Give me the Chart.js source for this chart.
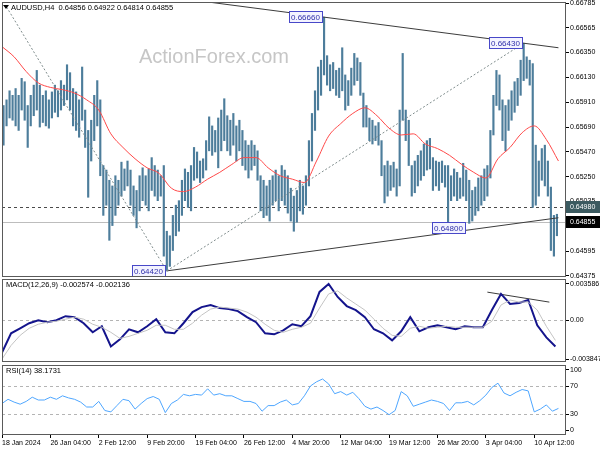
<!DOCTYPE html>
<html>
<head>
<meta charset="utf-8">
<script src="https://cdn.jsdelivr.net/npm/chart.js@4.4.1/dist/chart.umd.min.js"></script>
<style>
html, body { margin: 0; padding: 0; background: #fff; }
#wrap { position: relative; width: 600px; height: 450px; overflow: hidden; }
canvas { position: absolute; left: 0; }
</style>
</head>
<body>
<div id="wrap">
  <canvas id="price" width="600" height="284" style="top:0px"></canvas>
  <canvas id="macd" width="600" height="85" style="top:278px"></canvas>
  <canvas id="time" width="600" height="18" style="top:432px"></canvas>
  <canvas id="rsi" width="600" height="72" style="top:364px"></canvas>
</div>
<script>
// AUDUSD H4, one entry per two H4 bars
const highs = [
  0.6588, 0.6593, 0.6601, 0.6597, 0.6603, 0.6597, 0.6612, 0.6609, 0.6588, 0.6597,
  0.6606, 0.6619, 0.6606, 0.6597, 0.6601, 0.6593, 0.6600, 0.6606, 0.6601, 0.6610,
  0.6606, 0.6624, 0.6617, 0.6603, 0.6600, 0.6593, 0.6622, 0.6584, 0.6566, 0.6575,
  0.6597, 0.6610, 0.6593, 0.6535, 0.6531, 0.6522, 0.6517, 0.6526, 0.6522, 0.6538,
  0.6532, 0.6539, 0.6531, 0.6517, 0.6513, 0.6526, 0.6533, 0.6526, 0.6532, 0.6542,
  0.6535, 0.6531, 0.6526, 0.6535, 0.6477, 0.6473, 0.6491, 0.6500, 0.6504, 0.6522,
  0.6532, 0.6529, 0.6535, 0.6551, 0.6547, 0.6539, 0.6541, 0.6557, 0.6578, 0.6570,
  0.6566, 0.6577, 0.6584, 0.6594, 0.6579, 0.6575, 0.6581, 0.6570, 0.6575, 0.6566,
  0.6557, 0.6553, 0.6557, 0.6553, 0.6548, 0.6526, 0.6522, 0.6517, 0.6522, 0.6526,
  0.6531, 0.6526, 0.6535, 0.6531, 0.6526, 0.6515, 0.6508, 0.6513, 0.6522, 0.6517,
  0.6526, 0.6557, 0.6581, 0.6601, 0.6622, 0.6628, 0.6666, 0.6632, 0.6624, 0.6626,
  0.6619, 0.6621, 0.6639, 0.6615, 0.6610, 0.6621, 0.6634, 0.6630, 0.6626, 0.6599,
  0.6588, 0.6577, 0.6575, 0.6570, 0.6573, 0.6557, 0.6535, 0.6539, 0.6535, 0.6538,
  0.6532, 0.6584, 0.6634, 0.6584, 0.6575, 0.6535, 0.6539, 0.6544, 0.6548, 0.6554,
  0.6557, 0.6559, 0.6542, 0.6539, 0.6538, 0.6539, 0.6535, 0.6535, 0.6526, 0.6532,
  0.6529, 0.6524, 0.6537, 0.6531, 0.6522, 0.6513, 0.6516, 0.6524, 0.6526, 0.6532,
  0.6535, 0.6566, 0.6597, 0.6619, 0.6615, 0.6593, 0.6588, 0.6593, 0.6601, 0.6609,
  0.6612, 0.6628, 0.6643, 0.6631, 0.6628, 0.6625, 0.6553, 0.6539, 0.6550, 0.6553,
  0.6539, 0.6516, 0.6491, 0.6492
];
const lows = [
  0.6553, 0.6570, 0.6577, 0.6575, 0.6570, 0.6566, 0.6584, 0.6575, 0.6551, 0.6570,
  0.6579, 0.6584, 0.6569, 0.6573, 0.6570, 0.6568, 0.6577, 0.6582, 0.6578, 0.6584,
  0.6588, 0.6593, 0.6584, 0.6570, 0.6566, 0.6560, 0.6575, 0.6551, 0.6507, 0.6539,
  0.6557, 0.6570, 0.6526, 0.6491, 0.6500, 0.6469, 0.6482, 0.6491, 0.6500, 0.6508,
  0.6513, 0.6517, 0.6500, 0.6491, 0.6480, 0.6495, 0.6504, 0.6500, 0.6495, 0.6513,
  0.6508, 0.6504, 0.6508, 0.6455, 0.6442, 0.6446, 0.6460, 0.6473, 0.6477, 0.6491,
  0.6504, 0.6498, 0.6495, 0.6522, 0.6524, 0.6520, 0.6524, 0.6531, 0.6548, 0.6544,
  0.6547, 0.6533, 0.6548, 0.6557, 0.6548, 0.6544, 0.6553, 0.6539, 0.6548, 0.6535,
  0.6531, 0.6524, 0.6531, 0.6535, 0.6522, 0.6495, 0.6489, 0.6491, 0.6486, 0.6500,
  0.6504, 0.6495, 0.6504, 0.6500, 0.6493, 0.6486, 0.6477, 0.6485, 0.6495, 0.6492,
  0.6500, 0.6517, 0.6539, 0.6566, 0.6584, 0.6597, 0.6615, 0.6606, 0.6601, 0.6603,
  0.6597, 0.6595, 0.6601, 0.6584, 0.6588, 0.6597, 0.6606, 0.6610, 0.6597, 0.6569,
  0.6569, 0.6557, 0.6554, 0.6557, 0.6553, 0.6526, 0.6502, 0.6508, 0.6513, 0.6516,
  0.6508, 0.6517, 0.6575, 0.6557, 0.6535, 0.6508, 0.6511, 0.6517, 0.6522, 0.6526,
  0.6531, 0.6532, 0.6513, 0.6517, 0.6513, 0.6520, 0.6516, 0.6480, 0.6504, 0.6508,
  0.6504, 0.6506, 0.6508, 0.6504, 0.6484, 0.6486, 0.6491, 0.6495, 0.6500, 0.6504,
  0.6508, 0.6524, 0.6562, 0.6588, 0.6584, 0.6557, 0.6548, 0.6566, 0.6575, 0.6582,
  0.6588, 0.6597, 0.6610, 0.6612, 0.6606, 0.6498, 0.6500, 0.6508, 0.6522, 0.6517,
  0.6508, 0.6460, 0.6455, 0.6473
];
// moving average, one value every 8 H4 bars
const maValues = [
  0.6640, 0.6631, 0.6618, 0.6608, 0.6604, 0.6602, 0.6599, 0.6593, 0.6584, 0.6563,
  0.6551, 0.6541, 0.6533, 0.6528, 0.6515, 0.6512, 0.6516, 0.6523, 0.6529, 0.6536,
  0.6542, 0.6542, 0.6533, 0.6526, 0.6523, 0.6520, 0.6539, 0.6561, 0.6572, 0.6581,
  0.6586, 0.6579, 0.6568, 0.6562, 0.6563, 0.6554, 0.6550, 0.6544, 0.6536, 0.6529,
  0.6524, 0.6541, 0.6551, 0.6564, 0.6570, 0.6558, 0.6539
];
// MACD main and signal, one value every 6 H4 bars
const macdMain = [
  -0.0032, -0.0013, -0.0008, -0.0003, 0.0000, -0.0002, 0.0000, 0.0004, 0.0003, -0.0003,
  -0.0012, -0.0006, -0.0026, -0.0019, -0.0009, -0.0012, -0.0006, 0.0001, -0.0012, -0.0013,
  -0.0003, 0.0008, 0.0013, 0.0015, 0.0012, 0.0011, 0.0009, 0.0003, -0.0002, -0.0013,
  -0.0014, -0.0010, -0.0004, -0.0006, 0.0004, 0.0028, 0.003586, 0.0023, 0.0014, 0.0010,
  0.0003, -0.0009, -0.0013, -0.0020, -0.0011, 0.0003, -0.0011, -0.0007, -0.0005, -0.0007,
  -0.0009, -0.0006, -0.0007, -0.0007, 0.0010, 0.0026, 0.0016, 0.0017, 0.0020, -0.0005,
  -0.0017, -0.0026
];
const macdSignal = [
  -0.003847, -0.0025, -0.0015, -0.0008, -0.0004, -0.0002, -0.0001, 0.0001, 0.0003, 0.0001,
  -0.0004, -0.0007, -0.0012, -0.0018, -0.0016, -0.0013, -0.0010, -0.0005, -0.0005, -0.0009,
  -0.0009, -0.0003, 0.0005, 0.0011, 0.0013, 0.0012, 0.0011, 0.0008, 0.0003, -0.0004,
  -0.0010, -0.0012, -0.0009, -0.0007, -0.0003, 0.0012, 0.0026, 0.0029, 0.0022, 0.0016,
  0.0010, 0.0001, -0.0008, -0.0015, -0.0016, -0.0008, -0.0006, -0.0008, -0.0007, -0.0006,
  -0.0007, -0.0007, -0.0007, -0.0007, -0.0001, 0.0015, 0.0020, 0.0018, 0.0018, 0.0010,
  -0.0006, -0.0020
];
// RSI(14), one value every 4 H4 bars
const rsiValues = [
  45, 51, 47, 44, 48, 54, 50, 50, 54, 51, 56, 53, 51, 47, 40, 40, 48, 35, 33, 42,
  51, 49, 37, 45, 52, 55, 51, 32, 45, 50, 58, 56, 58, 57, 66, 57, 59, 56, 56, 52,
  48, 48, 45, 34, 42, 42, 47, 50, 43, 45, 56, 70, 76, 80, 73, 59, 62, 57, 61, 52,
  41, 37, 40, 35, 29, 35, 62, 56, 41, 44, 47, 50, 48, 45, 35, 46, 46, 48, 43, 49,
  57, 68, 74, 60, 56, 61, 65, 63, 33, 37, 43, 34, 38
];

const BAR_STEP = 2, MA_STEP = 8, MACD_STEP = 6, RSI_STEP = 4;
const X_MAX = 373;

const priceTicks = [0.64375, 0.64595, 0.64815, 0.65035, 0.65250, 0.65470, 0.65690, 0.65910, 0.66130, 0.66350, 0.66565, 0.66785];
const macdTicks = [-0.003847, 0, 0.003586];
const macdTickLabels = ['-0.003847', '0.00', '0.003586'];
// the 0 and 100 labels sit just inside the panel edges
const rsiTickPos = [7, 30, 70, 93];
const rsiTickLabels = ['0', '30', '70', '100'];
const xTickIdx = [0, 32, 64, 96, 128, 160, 192, 224, 256, 288, 320, 352];
const xTickLabels = ['18 Jan 2024', '26 Jan 04:00', '2 Feb 12:00', '9 Feb 20:00', '19 Feb 04:00', '26 Feb 12:00',
  '4 Mar 20:00', '12 Mar 04:00', '19 Mar 12:00', '26 Mar 20:00', '3 Apr 04:00', '10 Apr 12:00'];

// drawn objects: [bar index, value] end points
const trendUpper = [[134, 0.66798], [368, 0.66390]];
const trendLower = [[109, 0.64420], [368, 0.64889]];
const guideDown = [[3, 0.66750], [109, 0.64420]];
const guideUp = [[109, 0.64420], [345, 0.66430]];
const macdTrend = [[321, 0.00278], [362, 0.00179]];
const pivotIdx = [109, 213, 345, 295];
const pivotPrice = [0.64420, 0.66660, 0.66430, 0.64800];
const pivotAlign = ['right', 'right', 'right', 'center'];
const priceLevels = [0.64980, 0.64855];

const lastOHLC = [0.64856, 0.64922, 0.64814, 0.64855];
const macdLast = [-0.002574, -0.002136];
const rsiLast = 38.1731;

const FONT = '"Liberation Sans", Arial, sans-serif';
Chart.defaults.font.family = FONT;
Chart.defaults.font.size = 7;
Chart.defaults.color = '#000';

const toPts = pairs => pairs.map(p => ({ x: p[0], y: p[1] }));

const panels = {
  price: {
    title: 'AUDUSD,H4  ' + lastOHLC.map(v => v.toFixed(5)).join(' '),
    triangle: true,
    watermark: true,
    pivots: true,
    levels: [
      { value: priceLevels[0], color: '#4a4a4a', dash: [3, 3] },
      { value: priceLevels[1], color: '#bdbdbd', dash: [] }
    ],
    tags: [
      { value: priceLevels[0], bg: '#3b5a60', fg: '#ffffff' },
      { value: priceLevels[1], bg: '#000000', fg: '#ffffff' }
    ]
  },
  macd: {
    title: 'MACD(12,26,9) ' + macdLast.map(v => v.toFixed(6)).join(' '),
    levels: [{ value: 0, color: '#b4b4b4', dash: [3, 3] }]
  },
  rsi: {
    title: 'RSI(14) ' + rsiLast.toFixed(4),
    axisLabels: true,
    levels: [
      { value: 70, color: '#b4b4b4', dash: [3, 3] },
      { value: 30, color: '#b4b4b4', dash: [3, 3] }
    ]
  }
};

const mtPlugin = {
  id: 'mtPanel',
  beforeDatasetsDraw(chart) {
    const cfg = panels[chart.canvas.id];
    if (!cfg) return;
    const { ctx, chartArea: a } = chart;
    const sy = chart.scales.y;
    ctx.save();
    if (cfg.watermark) {
      ctx.fillStyle = '#c6c6c6';
      ctx.font = '20px ' + FONT;
      ctx.textAlign = 'center';
      ctx.textBaseline = 'middle';
      ctx.fillText('ActionForex.com', 214, 57);
    }
    cfg.levels.forEach(l => {
      const py = Math.round(sy.getPixelForValue(l.value)) + 0.5;
      ctx.strokeStyle = l.color;
      ctx.lineWidth = 1;
      ctx.setLineDash(l.dash);
      ctx.beginPath();
      ctx.moveTo(a.left, py);
      ctx.lineTo(a.right, py);
      ctx.stroke();
    });
    ctx.restore();
  },
  afterDatasetsDraw(chart) {
    const cfg = panels[chart.canvas.id];
    if (!cfg || !cfg.pivots) return;
    const { ctx } = chart;
    const sx = chart.scales.x, sy = chart.scales.y;
    ctx.save();
    ctx.font = '8px ' + FONT;
    ctx.textBaseline = 'middle';
    pivotIdx.forEach((idx, i) => {
      const txt = pivotPrice[i].toFixed(5);
      const w = Math.ceil(ctx.measureText(txt).width) + 4;
      const px = sx.getPixelForValue(idx);
      const py = Math.round(sy.getPixelForValue(pivotPrice[i]));
      const left = pivotAlign[i] === 'center' ? Math.round(px - w / 2) : Math.round(px - w - 2);
      ctx.fillStyle = '#f3f3ff';
      ctx.fillRect(left, py - 5, w, 10);
      ctx.strokeStyle = '#4848c8';
      ctx.lineWidth = 1;
      ctx.strokeRect(left + 0.5, py - 5.5, w, 11);
      ctx.fillStyle = '#3030aa';
      ctx.fillText(txt, left + 2, py + 0.5);
    });
    ctx.restore();
  },
  afterDraw(chart) {
    const cfg = panels[chart.canvas.id];
    if (!cfg) return;
    const { ctx, chartArea: a } = chart;
    ctx.save();
    ctx.strokeStyle = '#5a5a5a';
    ctx.lineWidth = 1;
    ctx.strokeRect(Math.floor(a.left) + 0.5, Math.floor(a.top) + 0.5,
      Math.round(a.right - a.left) - 1, Math.round(a.bottom - a.top) - 1);
    ctx.font = '7.5px ' + FONT;
    ctx.fillStyle = '#000';
    ctx.textBaseline = 'middle';
    let tx = a.left + 4;
    if (cfg.triangle) {
      ctx.beginPath();
      ctx.moveTo(a.left + 1, a.top + 3);
      ctx.lineTo(a.left + 7, a.top + 3);
      ctx.lineTo(a.left + 4, a.top + 7);
      ctx.closePath();
      ctx.fill();
      tx = a.left + 9;
    }
    ctx.fillText(cfg.title, tx, a.top + 6);
    // RSI scale labels, placed at the scale's own tick positions
    if (cfg.axisLabels) {
      ctx.font = '7px ' + FONT;
      ctx.textAlign = 'left';
      chart.scales.y.ticks.forEach((t, i) => {
        ctx.fillText(rsiTickLabels[i], a.right + 4, chart.scales.y.getPixelForValue(t.value));
      });
    }
    (cfg.tags || []).forEach(t => {
      const py = Math.round(chart.scales.y.getPixelForValue(t.value));
      ctx.fillStyle = t.bg;
      ctx.fillRect(a.right, py - 6, 600 - a.right, 12);
      ctx.fillStyle = t.fg;
      ctx.font = '7px ' + FONT;
      ctx.fillText(t.value.toFixed(5), a.right + 4, py);
    });
    ctx.restore();
  }
};
Chart.register(mtPlugin);

function yAxis(extra) {
  return Object.assign({
    position: 'right',
    // fixed axis column, and no extra room reserved for the end labels
    afterFit: s => { s.width = 34; s.paddingTop = 0; s.paddingBottom = 0; },
    border: { display: false },
    grid: { drawOnChartArea: false, drawTicks: true, tickLength: 3, color: '#000' },
    ticks: { autoSkip: false, padding: 1, color: '#000' }
  }, extra);
}
const hiddenX = () => ({ type: 'linear', min: 0, max: X_MAX, display: false, offset: false });
const base = () => ({
  responsive: false,
  animation: false,
  devicePixelRatio: 1,
  plugins: { legend: { display: false }, tooltip: { enabled: false } }
});
const lineDs = (data, color, width, dash) => ({
  type: 'line', data, borderColor: color, borderWidth: width, borderDash: dash || [],
  pointRadius: 0, fill: false, tension: 0, order: 0
});

// Price panel
new Chart(document.getElementById('price').getContext('2d'), {
  type: 'bar',
  data: {
    datasets: [
      {
        type: 'bar',
        data: highs.map((h, i) => ({ x: i * BAR_STEP + 1, y: [lows[i], h] })),
        backgroundColor: '#4d7d9b',
        borderWidth: 0,
        barThickness: 1.5,
        grouped: false,
        order: 10
      },
      Object.assign(lineDs(maValues.map((v, i) => ({ x: i * MA_STEP, y: v })), '#ff4848', 1), { cubicInterpolationMode: 'monotone' }),
      lineDs(toPts(guideDown), '#7f8c8c', 1, [2, 2]),
      lineDs(toPts(guideUp), '#7f8c8c', 1, [2, 2]),
      lineDs(toPts(trendUpper), '#3c3c3c', 1),
      lineDs(toPts(trendLower), '#3c3c3c', 1)
    ]
  },
  options: Object.assign(base(), {
    layout: { padding: { left: 2, top: 2, bottom: 7, right: 0 } },
    scales: {
      x: hiddenX(),
      y: yAxis({
        min: 0.64366, max: 0.66794,
        afterBuildTicks: s => { s.ticks = priceTicks.map(v => ({ value: v })); },
        ticks: { autoSkip: false, padding: 1, color: '#000', callback: v => Number(v).toFixed(5) }
      })
    }
  })
});

// MACD panel
new Chart(document.getElementById('macd').getContext('2d'), {
  type: 'line',
  data: {
    datasets: [
      lineDs(macdSignal.map((v, i) => ({ x: i * MACD_STEP, y: v })), '#c4c4c4', 1),
      lineDs(macdMain.map((v, i) => ({ x: i * MACD_STEP, y: v })), '#14148c', 2),
      lineDs(toPts(macdTrend), '#3c3c3c', 1)
    ]
  },
  options: Object.assign(base(), {
    layout: { padding: { left: 2, top: 1, bottom: 1, right: 0 } },
    scales: {
      x: hiddenX(),
      y: yAxis({
        min: -0.00414, max: 0.00408,
        afterBuildTicks: s => { s.ticks = macdTicks.map(v => ({ value: v })); },
        ticks: { autoSkip: false, padding: 1, color: '#000', callback: (v, i) => macdTickLabels[i] }
      })
    }
  })
});

// Time axis strip under the panels
new Chart(document.getElementById('time').getContext('2d'), {
  type: 'line',
  data: { datasets: [] },
  options: Object.assign(base(), {
    layout: { padding: { left: 2, top: 0, bottom: 0, right: 34 } },
    scales: {
      x: {
        type: 'linear', min: 0, max: X_MAX, offset: false,
        afterBuildTicks: s => { s.ticks = xTickIdx.map(v => ({ value: v })); },
        afterFit: s => { s.height = 15; },
        border: { display: false },
        grid: { drawOnChartArea: false, drawTicks: true, tickLength: 3, color: '#000' },
        ticks: { autoSkip: false, maxRotation: 0, align: 'start', padding: 1, color: '#000',
          callback: (v, i) => xTickLabels[i] }
      },
      y: { display: false, min: 0, max: 1 }
    }
  })
});

// RSI panel (tick marks from the scale, labels drawn beside them)
new Chart(document.getElementById('rsi').getContext('2d'), {
  type: 'line',
  data: {
    datasets: [
      lineDs(rsiValues.map((v, i) => ({ x: i * RSI_STEP, y: v })), '#4ea6ff', 1)
    ]
  },
  options: Object.assign(base(), {
    layout: { padding: { left: 2, top: 1, bottom: 1, right: 0 } },
    scales: {
      x: hiddenX(),
      y: yAxis({
        min: 0, max: 100,
        afterBuildTicks: s => { s.ticks = rsiTickPos.map(v => ({ value: v })); },
        ticks: { autoSkip: false, padding: 1, color: 'rgba(0,0,0,0)', callback: (v, i) => rsiTickLabels[i] }
      })
    }
  })
});
</script>
</body>
</html>
